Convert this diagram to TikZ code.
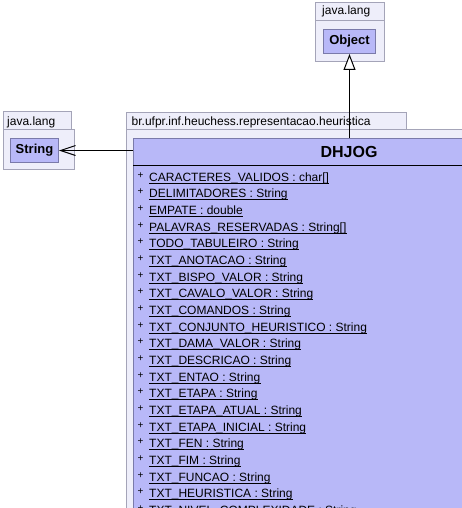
\documentclass[tikz,border=0pt]{standalone}
\usepackage{fontspec}
\setmainfont{Liberation Sans}
\usetikzlibrary{arrows.meta}
\definecolor{pkgfill}{HTML}{EEEEFA}
\definecolor{pkgdraw}{HTML}{A4A4B8}
\definecolor{clsfill}{HTML}{B8B8F8}
\definecolor{clsdraw}{HTML}{7A7AAA}
\tikzset{
  pkgbox/.style={draw=pkgdraw, fill=pkgfill, line width=1pt, inner sep=0pt, anchor=north west},
  clsbox/.style={draw=clsdraw, fill=clsfill, line width=1pt, inner sep=0pt, anchor=north west},
  pkglabel/.style={inner sep=0pt, anchor=base west, font=\fontsize{12}{14}\selectfont},
  clsname/.style={inner sep=0pt, font=\fontsize{13}{15}\selectfont\bfseries},
  attr/.style={inner sep=0pt, anchor=base west, font=\fontsize{12}{14}\selectfont},
  plus/.style={inner sep=0pt, anchor=base, font=\fontsize{10}{11}\selectfont},
  conn/.style={line width=1pt, black}
}
\begin{document}
\begin{tikzpicture}[x=1pt,y=-1pt]
\useasboundingbox (0,0) rectangle (462,508);
\clip (0,0) rectangle (462,508);
\fill[white] (0,0) rectangle (462,508);
% java.lang (Object)
\node[pkgbox, minimum width=69pt, minimum height=18pt] (otab) at (315,2) {};
\node[pkgbox, minimum width=69pt, minimum height=41pt] (opkg) at (315,20) {};
\node[pkglabel] (otabl) at (322,15) {java.lang};
\node[clsbox, minimum width=52pt, minimum height=24pt] (obj) at (323,29) {};
\node[clsname] (objl) at (obj.center) {Object};
% java.lang (String)
\node[pkgbox, minimum width=68pt, minimum height=18pt] (stab) at (3,111) {};
\node[pkgbox, minimum width=71pt, minimum height=40pt] (spkg) at (3,129) {};
\node[pkglabel] (stabl) at (7,125) {java.lang};
\node[clsbox, minimum width=48pt, minimum height=24pt] (str) at (10,138) {};
\node[clsname] (strl) at (str.center) {String};
% heuchess package
\node[pkgbox, minimum width=280pt, minimum height=17pt] (htab) at (126,112) {};
\node[pkgbox, minimum width=350pt, minimum height=400pt] (hpkg) at (126,129) {};
\node[pkglabel] (htabl) at (131.5,125) {br.ufpr.inf.heuchess.representacao.heuristica};
% DHJOG class
\node[clsbox, minimum width=340pt, minimum height=390pt] (cls) at (133,138) {};
\coordinate (sepl) at (133,165);
\draw[line width=1pt, black] (sepl) -- (sepl -| cls.east);
\node[inner sep=0pt, font=\fontsize{16}{18}\selectfont\bfseries] (clsl) at (349,152) {DHJOG};
% attributes
\foreach \t [count=\i from 0] in {
  {CARACTERES\_VALIDOS : char[]},
  {DELIMITADORES : String},
  {EMPATE : double},
  {PALAVRAS\_RESERVADAS : String[]},
  {TODO\_TABULEIRO : String},
  {TXT\_ANOTACAO : String},
  {TXT\_BISPO\_VALOR : String},
  {TXT\_CAVALO\_VALOR : String},
  {TXT\_COMANDOS : String},
  {TXT\_CONJUNTO\_HEURISTICO : String},
  {TXT\_DAMA\_VALOR : String},
  {TXT\_DESCRICAO : String},
  {TXT\_ENTAO : String},
  {TXT\_ETAPA : String},
  {TXT\_ETAPA\_ATUAL : String},
  {TXT\_ETAPA\_INICIAL : String},
  {TXT\_FEN : String},
  {TXT\_FIM : String},
  {TXT\_FUNCAO : String},
  {TXT\_HEURISTICA : String},
  {TXT\_NIVEL\_COMPLEXIDADE : String}} {
  \node[plus] (p\i) at (140.5,{178+16.667*\i}) {+};
  \node[attr] (a\i) at (149,{181+16.667*\i}) {\t};
  \draw[line width=1pt] ([yshift=-2pt]a\i.base west) -- ([yshift=-2pt]a\i.base east);
}
% connectors
\draw[conn, -{Triangle[open, length=16pt, width=12pt, fill=white]}] (obj.south |- cls.north) -- (obj.south);
\draw[conn, -{Straight Barb[length=15pt, width=10pt]}] (str.east -| cls.west) -- (str.east);
\end{tikzpicture}
\end{document}
